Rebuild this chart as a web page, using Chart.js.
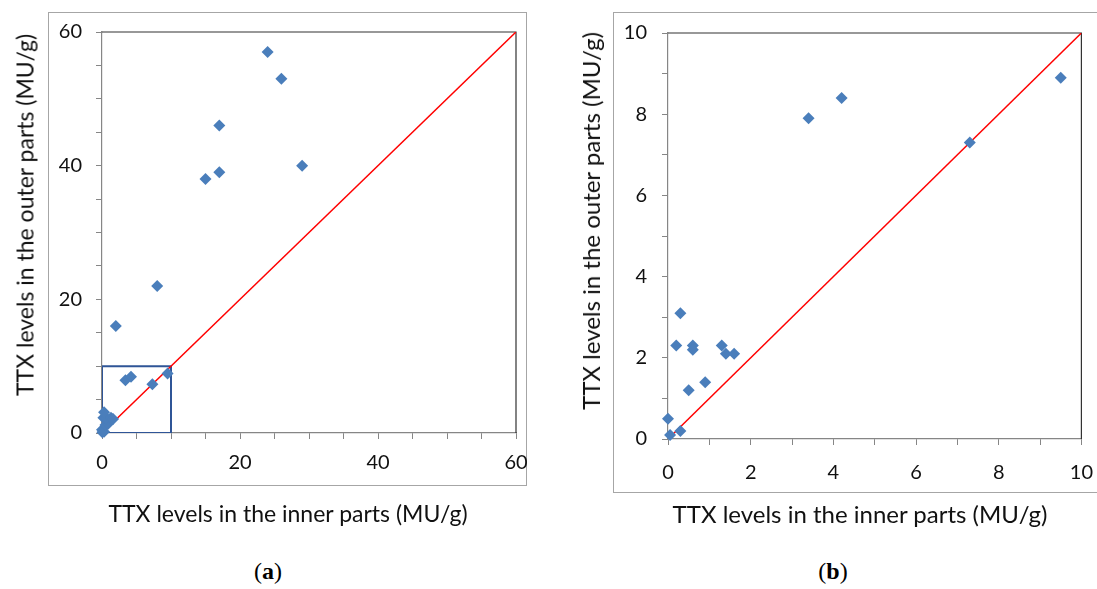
<!DOCTYPE html>
<html>
<head>
<meta charset="utf-8">
<script src="https://cdn.jsdelivr.net/npm/chart.js@4.4.0/dist/chart.umd.min.js"></script>
<style>
  body { margin: 0; background: #fff; width: 1097px; height: 589px; position: relative; overflow: hidden; }
  .frame { position: absolute; border: 1px solid #a6a6a6; box-sizing: border-box; }
  .wrap { position: absolute; }
  .lbl { position: absolute; font-family: Lato, sans-serif; color: #111; line-height: 1; white-space: nowrap; }
  .xt { transform: translate(-50%, -50%); }
  .yt { transform: translate(-50%, -50%) rotate(-90deg); }
  .cap { position: absolute; top: 558px; font-family: "Liberation Serif", serif; font-size: 24px; transform: translateX(-50%); }
</style>
</head>
<body>
<div class="frame" style="left:48px;top:12px;width:479px;height:474px"></div>
<div class="frame" style="left:613px;top:12px;width:490px;height:481px"></div>
<div class="wrap" style="left:0;top:0;width:548px;height:545px"><canvas id="chartA"></canvas></div>
<div class="wrap" style="left:560px;top:0;width:549px;height:545px"><canvas id="chartB"></canvas></div>
<div class="lbl yt" style="left:25px;top:215px;font-size:23px">TTX levels in the outer parts (MU/g)</div>
<div class="lbl xt" style="left:288px;top:513px;font-size:23px">TTX levels in the inner parts (MU/g)</div>
<div class="lbl yt" style="left:591px;top:221px;font-size:24px">TTX levels in the outer parts (MU/g)</div>
<div class="lbl xt" style="left:860px;top:514px;font-size:24px">TTX levels in the inner parts (MU/g)</div>
<div class="cap" style="left:268px">(<b>a</b>)</div>
<div class="cap" style="left:833px">(<b>b</b>)</div>
<script>
// samples at or below 10 MU/g inside (shown in both panels)
const innerLow = [0, 0.05, 0.3, 0.5, 0.9, 0.2, 0.6, 0.6, 1.3, 1.4, 1.6, 0.3, 3.4, 4.2, 7.3, 9.5];
const outerLow = [0.5, 0.1, 0.2, 1.2, 1.4, 2.3, 2.3, 2.2, 2.3, 2.1, 2.1, 3.1, 7.9, 8.4, 7.3, 8.9];
// the higher ones, only in panel (a)
const innerHigh = [2, 8, 15, 17, 17, 29, 26, 24];
const outerHigh = [16, 22, 38, 39, 46, 40, 53, 57];
// zoom box of panel (b) drawn in panel (a)
const boxInner = [0, 0, 10, 10, 0];
const boxOuter = [0, 10, 10, 0, 0];
const lineA = [0, 60];
const lineB = [0, 10];
const ticksA = [0, 20, 40, 60];
const ticksB = [0, 2, 4, 6, 8, 10];

const font = { family: 'Lato', size: 20 };

function toPoints(xs, ys) {
  return xs.map((x, i) => ({ x: x, y: ys[i] }));
}

// black border on top and right of the plot
const frameTopRight = {
  id: 'frameTopRight',
  beforeDatasetsDraw(chart) {
    const { ctx, chartArea: a } = chart;
    ctx.save();
    ctx.strokeStyle = '#333';
    ctx.lineWidth = 1.2;
    ctx.beginPath();
    ctx.moveTo(a.left, a.top);
    ctx.lineTo(a.right, a.top);
    ctx.lineTo(a.right, a.bottom);
    ctx.stroke();
    ctx.restore();
  }
};

function axis(max, step, labels, cfg) {
  return {
    type: 'linear',
    min: 0,
    max: max,
    border: { color: '#868686', width: 1.2 },
    grid: { drawOnChartArea: false, drawTicks: true, tickLength: 6, color: '#868686' },
    ticks: {
      stepSize: step,
      padding: cfg.tickPad,
      color: '#111',
      font: font,
      maxRotation: 0,
      autoSkip: false,
      callback: v => labels.includes(v) ? v : ''
    },
    afterFit: cfg.fit
  };
}

function makeChart(id, max, step, labels, datasets, cfg) {
  new Chart(document.getElementById(id), {
    type: 'scatter',
    data: { datasets: datasets },
    options: {
      responsive: true,
      maintainAspectRatio: false,
      animation: false,
      layout: { padding: cfg.padding },
      plugins: { legend: { display: false }, tooltip: { enabled: false } },
      scales: {
        x: axis(max, step, labels, cfg.x),
        y: axis(max, step, labels, cfg.y)
      }
    },
    plugins: [frameTopRight]
  });
}

const pointStyle = {
  type: 'scatter',
  pointStyle: 'rectRot',
  pointRadius: 6,
  backgroundColor: '#4a7ebb',
  borderColor: '#4a7ebb',
  borderWidth: 0,
  clip: false
};

function diag(vals) {
  return {
    type: 'line',
    data: toPoints(vals, vals),
    borderColor: '#ff0000',
    borderWidth: 1.5,
    pointRadius: 0
  };
}

makeChart('chartA', 60, 5, ticksA, [
  Object.assign({ data: toPoints(innerLow.concat(innerHigh), outerLow.concat(outerHigh)) }, pointStyle),
  diag(lineA),
  {
    type: 'line',
    data: toPoints(boxInner, boxOuter),
    borderColor: '#2f5597',
    borderWidth: 2,
    pointRadius: 0
  }
], {
  padding: { top: 32, right: 32, left: 0, bottom: 0 },
  x: { tickPad: 12, fit: s => { s.height = 112; } },
  y: { tickPad: 14, fit: s => { s.width = 102; } }
});

makeChart('chartB', 10, 1, ticksB, [
  Object.assign({ data: toPoints(innerLow, outerLow) }, pointStyle),
  diag(lineB)
], {
  padding: { top: 33, right: 0, left: 0, bottom: 0 },
  x: { tickPad: 16, fit: s => { s.height = 106; } },
  y: { tickPad: 15, fit: s => { s.width = 108; } }
});
</script>
</body>
</html>
